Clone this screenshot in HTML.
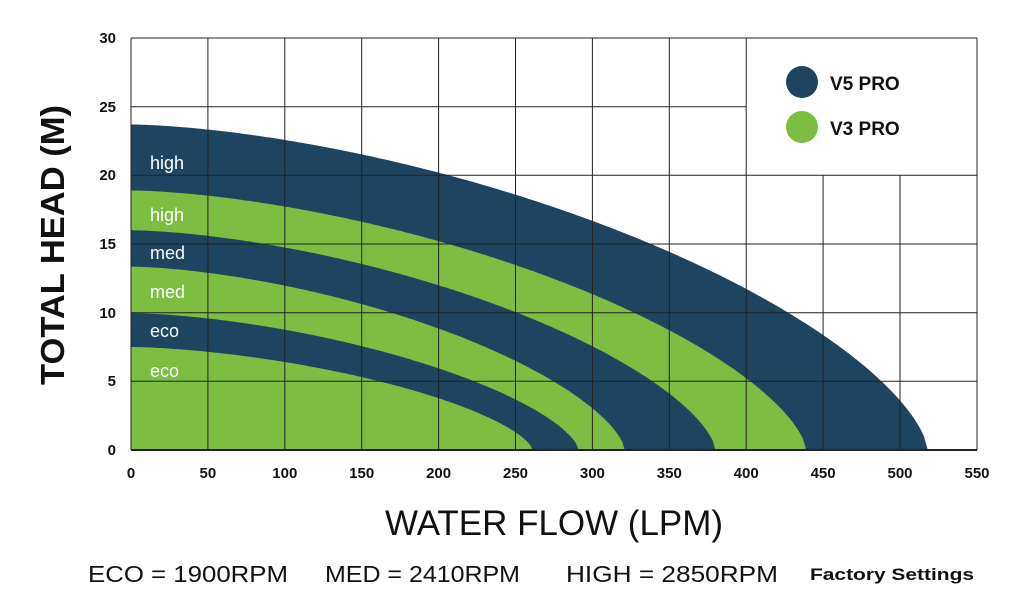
<!DOCTYPE html>
<html><head><meta charset="utf-8"><style>
body{margin:0;background:#fff;}
svg{display:block;font-family:"Liberation Sans",sans-serif;}
</style></head><body>
<svg id="s" width="1024" height="615" viewBox="0 0 1024 615" xmlns="http://www.w3.org/2000/svg">
<g id="fills"></g>
<g stroke="#222" stroke-width="1" fill="none">
<line x1="131" y1="38" x2="131" y2="450"/>
<line x1="207.9" y1="38" x2="207.9" y2="450"/>
<line x1="284.8" y1="38" x2="284.8" y2="450"/>
<line x1="361.7" y1="38" x2="361.7" y2="450"/>
<line x1="438.6" y1="38" x2="438.6" y2="450"/>
<line x1="515.5" y1="38" x2="515.5" y2="450"/>
<line x1="592.4" y1="38" x2="592.4" y2="450"/>
<line x1="669.3" y1="38" x2="669.3" y2="450"/>
<line x1="746.2" y1="38" x2="746.2" y2="450"/>
<line x1="823.1" y1="175.3" x2="823.1" y2="450"/>
<line x1="900" y1="175.3" x2="900" y2="450"/>
<line x1="977" y1="38" x2="977" y2="450"/>
<line x1="131" y1="38" x2="977" y2="38"/>
<line x1="131" y1="106.7" x2="746.2" y2="106.7"/>
<line x1="131" y1="175.3" x2="977" y2="175.3"/>
<line x1="131" y1="244" x2="977" y2="244"/>
<line x1="131" y1="312.7" x2="977" y2="312.7"/>
<line x1="131" y1="381.3" x2="977" y2="381.3"/>
<line x1="131" y1="450" x2="977" y2="450" stroke-width="2"/>
</g>
<g fill="#fff" font-size="18">
<text x="150" y="169">high</text>
<text x="150" y="221">high</text>
<text x="150" y="259">med</text>
<text x="150" y="298">med</text>
<text x="150" y="337">eco</text>
<text x="150" y="377">eco</text>
</g>
<circle cx="802" cy="82" r="16" fill="#1e4460"/>
<circle cx="802" cy="127" r="16" fill="#7dbd41"/>
<text x="830" y="90" font-size="19" font-weight="bold" fill="#111">V5 PRO</text>
<text x="830" y="135" font-size="19" font-weight="bold" fill="#111">V3 PRO</text>
<g font-size="15" font-weight="bold" fill="#111" text-anchor="end">
<text x="116" y="455">0</text><text x="116" y="386">5</text><text x="116" y="318">10</text>
<text x="116" y="249">15</text><text x="116" y="180">20</text><text x="116" y="112">25</text><text x="116" y="43">30</text>
</g>
<g font-size="15" font-weight="bold" fill="#111" text-anchor="middle">
<text x="131" y="478">0</text><text x="207.9" y="478">50</text><text x="284.8" y="478">100</text>
<text x="361.7" y="478">150</text><text x="438.6" y="478">200</text><text x="515.5" y="478">250</text>
<text x="592.4" y="478">300</text><text x="669.3" y="478">350</text><text x="746.2" y="478">400</text>
<text x="823.1" y="478">450</text><text x="900" y="478">500</text><text x="977" y="478">550</text>
</g>
<text transform="translate(64,245) rotate(-90)" text-anchor="middle" font-size="33" font-weight="bold" fill="#111" textLength="280" lengthAdjust="spacingAndGlyphs">TOTAL HEAD (M)</text>
<text x="385" y="535" font-size="35" fill="#111" textLength="338" lengthAdjust="spacingAndGlyphs">WATER FLOW (LPM)</text>
<text x="88" y="582" font-size="23" fill="#111" textLength="200" lengthAdjust="spacingAndGlyphs">ECO = 1900RPM</text>
<text x="325" y="582" font-size="23" fill="#111" textLength="195" lengthAdjust="spacingAndGlyphs">MED = 2410RPM</text>
<text x="566" y="582" font-size="23" fill="#111" textLength="212" lengthAdjust="spacingAndGlyphs">HIGH = 2850RPM</text>
<text x="810" y="580" font-size="17" font-weight="bold" fill="#111" textLength="164" lengthAdjust="spacingAndGlyphs">Factory Settings</text>
</svg>
<script>
var x0=131,xs=846/550,y0=450,ys=412/30;
function X(v){return x0+v*xs}function Y(v){return y0-v*ys}
var curves=[[23.7,518,"#1e4460"],[18.9,439,"#7dbd41"],[16.0,380,"#1e4460"],[13.35,321,"#7dbd41"],[9.97,291,"#1e4460"],[7.5,261,"#7dbd41"]];
var NS="http://www.w3.org/2000/svg",g=document.getElementById("fills");
curves.forEach(function(c){var H=c[0],M=c[1];var d="M"+X(0)+","+Y(0)+" L"+X(0)+","+Y(H);
for(var i=1;i<=200;i++){var x=M*i/200;var r=x/M;var y=H*Math.pow(Math.max(0,1-Math.pow(r,1.6)),0.65);d+=" L"+X(x).toFixed(2)+","+Y(y).toFixed(2);}
d+=" Z";var p=document.createElementNS(NS,"path");p.setAttribute("d",d);p.setAttribute("fill",c[2]);g.appendChild(p);});
</script>
</body></html>
